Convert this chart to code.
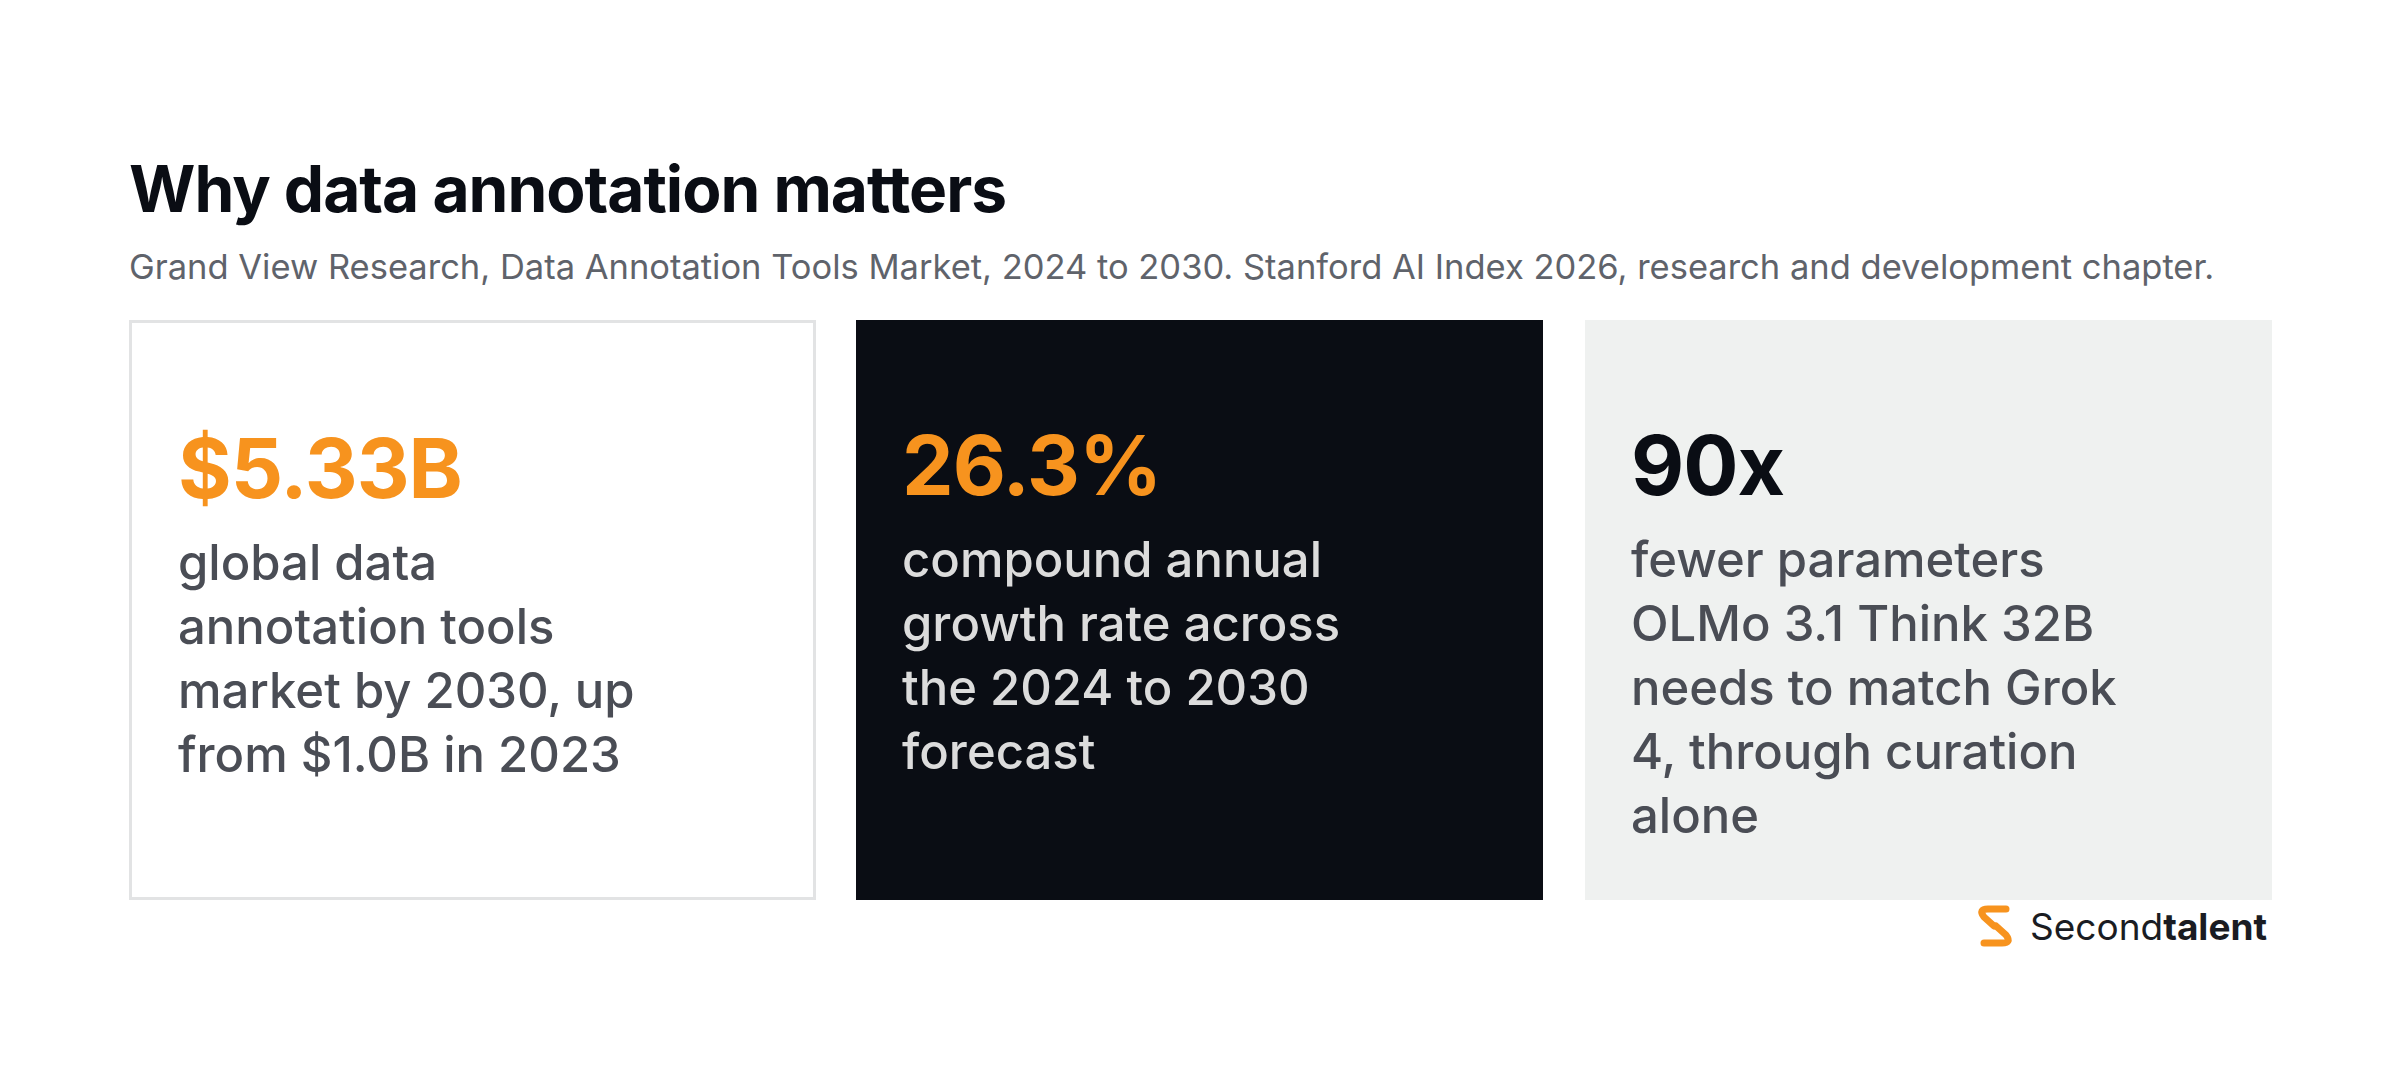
<!DOCTYPE html>
<html><head><meta charset="utf-8">
<script src="https://cdn.jsdelivr.net/npm/chart.js@4"></script>
<style>
html,body{margin:0;padding:0;background:#fff;width:2400px;height:1068px;overflow:hidden;font-family:Inter,"Noto Sans",sans-serif}
#title{position:absolute;left:129px;top:150px;font-size:64px;font-weight:700;color:#0a0d14;letter-spacing:-1px}
#sub{position:absolute;left:129px;top:246px;font-size:34.5px;color:#5f636b}
.card{position:absolute;top:320px;width:687px;height:580px;box-sizing:border-box;padding:0 0 0 46px}
.big{margin-top:96px;font-size:82px;font-weight:700;letter-spacing:-1px;line-height:100px}
.body{margin-top:12px;font-size:49px;line-height:64px;font-weight:500;width:530px}
#logo{position:absolute;left:1970px;top:900px;height:52px;display:flex;align-items:center;font-size:37px;color:#1a1c22}
</style></head><body>
<div id="title"></div><div id="sub"></div>
<div id="cards"></div>
<div id="logo"><svg width="50" height="50" viewBox="0 0 50 50"><path d="M36 8 L18 8 Q8 8 14 16 L24 25" fill="none" stroke="#f7931e" stroke-width="7" stroke-linecap="round" stroke-linejoin="round"/><path d="M14 42 L32 42 Q42 42 36 34 L26 25" fill="none" stroke="#f7931e" stroke-width="7" stroke-linecap="round" stroke-linejoin="round"/></svg><span style="margin-left:10px">Second<b>talent</b></span></div>
<script>
const titleText = "Why data annotation matters";
const subtitleText = "Grand View Research, Data Annotation Tools Market, 2024 to 2030. Stanford AI Index 2026, research and development chapter.";
const statValues = ["$5.33B", "26.3%", "90x"];
const statLabels = [
  "global data annotation tools market by 2030, up from $1.0B in 2023",
  "compound annual growth rate across the 2024 to 2030 forecast",
  "fewer parameters OLMo 3.1 Think 32B needs to match Grok 4, through curation alone"
];
const cardStyles = [
  {left:129, bg:"#fff", border:"3px solid #e2e3e4", num:"#f7931e", txt:"#4a4d55", w:470},
  {left:856, bg:"#0a0d14", border:"none", num:"#f7931e", txt:"#dcdcdc", w:470},
  {left:1585, bg:"#eff1f0", border:"none", num:"#0a0d14", txt:"#4a4d55", w:530}
];
document.getElementById('title').textContent = titleText;
document.getElementById('sub').textContent = subtitleText;
const c = document.getElementById('cards');
statValues.forEach((v,i)=>{
  const s = cardStyles[i];
  const d = document.createElement('div');
  d.className='card';
  d.style.cssText += `left:${s.left}px;background:${s.bg};border:${s.border};`;
  d.innerHTML = `<div class="big" style="color:${s.num}">${v}</div><div class="body" style="color:${s.txt};width:${s.w}px">${statLabels[i]}</div>`;
  c.appendChild(d);
});
</script>
</body></html>
